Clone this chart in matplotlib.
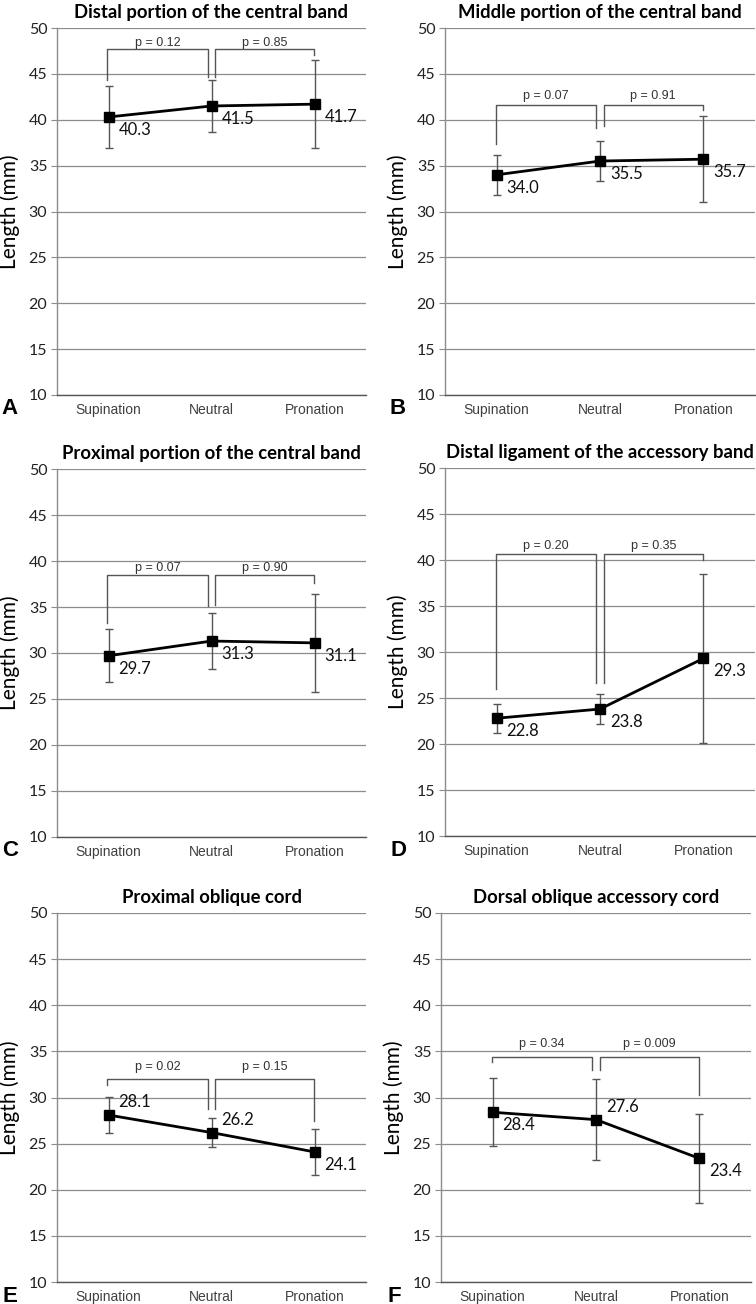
import numpy as np
import matplotlib
matplotlib.use("Agg")
import matplotlib.pyplot as plt

categories = ['Supination', 'Neutral', 'Pronation']
titles = ['Distal portion of the central band',
          'Middle portion of the central band',
          'Proximal portion of the central band',
          'Distal ligament of the accessory band',
          'Proximal oblique cord',
          'Dorsal oblique accessory cord']
letters = ['A', 'B', 'C', 'D', 'E', 'F']

# mean length (mm) and SD for each position
mean_a = [40.3, 41.5, 41.7]
sd_a = [3.4, 2.8, 4.8]
mean_b = [34.0, 35.5, 35.7]
sd_b = [2.2, 2.2, 4.7]
mean_c = [29.7, 31.3, 31.1]
sd_c = [2.9, 3.0, 5.3]
mean_d = [22.8, 23.8, 29.3]
sd_d = [1.6, 1.6, 9.2]
mean_e = [28.1, 26.2, 24.1]
sd_e = [2.0, 1.6, 2.5]
mean_f = [28.4, 27.6, 23.4]
sd_f = [3.7, 4.4, 4.8]

# p values (supination vs neutral, neutral vs pronation)
p_a = ['p = 0.12', 'p = 0.85']
p_b = ['p = 0.07', 'p = 0.91']
p_c = ['p = 0.07', 'p = 0.90']
p_d = ['p = 0.20', 'p = 0.35']
p_e = ['p = 0.02', 'p = 0.15']
p_f = ['p = 0.34', 'p = 0.009']

# bracket top and leg ends (sup, neutral-left, neutral-right, pron)
br_top = [47.7, 41.65, 38.45, 40.64, 32.0, 34.4]
br_legs = [[44.3, 44.7, 44.7, 47.1],
           [37.4, 39.1, 39.3, 41.1],
           [33.3, 35.1, 35.2, 37.65],
           [26.0, 26.6, 26.6, 39.95],
           [31.35, 28.8, 28.8, 27.4],
           [33.8, 33.0, 33.0, 30.3]]
p_gap = [0.7, 0.95, 0.75, 0.86, 1.3, 1.35]

# value label above (1) or below (-1) the marker
label_side = [[-1, -1, -1], [-1, -1, -1], [-1, -1, -1],
              [-1, -1, -1], [1, 1, -1], [-1, 1, -1]]

means = [mean_a, mean_b, mean_c, mean_d, mean_e, mean_f]
sds = [sd_a, sd_b, sd_c, sd_d, sd_e, sd_f]
pvals = [p_a, p_b, p_c, p_d, p_e, p_f]

W, H = 756, 1304
fig = plt.figure(figsize=(W / 100, H / 100), dpi=100)

# axes boxes in pixels: left, right, top, bottom
boxes = [(57, 366, 28, 395), (445, 755, 28, 395),
         (57, 366, 469, 837), (445, 755, 468, 836),
         (57, 366, 913, 1282), (441, 751, 913, 1282)]

grey = '#8c8c8c'
dark = '#404040'
x = np.arange(3)

for i in range(6):
    l, r, t, b = boxes[i]
    ax = fig.add_axes([l / W, (H - b) / H, (r - l) / W, (b - t) / H])
    ax.set_xlim(-0.5, 2.5)
    ax.set_ylim(10, 50)
    ax.set_yticks(np.arange(10, 51, 5))
    ax.yaxis.grid(True, color=grey, lw=0.9)
    ax.set_axisbelow(True)
    for s in ['top', 'right']:
        ax.spines[s].set_visible(False)
    ax.spines['left'].set_color(grey)
    ax.spines['bottom'].set_color('#555555')
    ax.spines['left'].set_linewidth(1.0)
    ax.spines['bottom'].set_linewidth(1.0)
    ax.tick_params(axis='y', length=4, color=grey, pad=3, labelsize=11.5, labelcolor='#222222')
    ax.tick_params(axis='x', length=0, pad=6, labelsize=10, labelcolor=dark)
    ax.set_xticks(x)
    ax.set_xticklabels(categories, family='Liberation Sans')
    for lab in ax.get_yticklabels():
        lab.set_family('Lato')

    ax.errorbar(x, means[i], yerr=sds[i], color='#555555', elinewidth=1.0,
                capsize=3, capthick=1.0, fmt='none', zorder=3)
    ax.plot(x, means[i], color='black', lw=2, marker='s', ms=7.5, zorder=4)

    for j in range(3):
        ax.annotate(f'{means[i][j]:.1f}', (x[j], means[i][j]),
                    xytext=(10, 13 * label_side[i][j]), textcoords='offset pixels',
                    ha='left', va='center', fontsize=12, family='Lato', color='#111111')

    # significance brackets
    legs = br_legs[i]
    top = br_top[i]
    xs = [-0.01, 1 - 0.035, 1 + 0.035, 1.995]
    ax.plot([xs[0], xs[0], xs[1], xs[1]], [legs[0], top, top, legs[1]],
            color='#555555', lw=1.0, zorder=2)
    ax.plot([xs[2], xs[2], xs[3], xs[3]], [legs[2], top, top, legs[3]],
            color='#555555', lw=1.0, zorder=2)
    ax.text((xs[0] + xs[1]) / 2, top + p_gap[i], pvals[i][0], ha='center', va='center',
            fontsize=9, family='Liberation Sans', color='#333333')
    ax.text((xs[2] + xs[3]) / 2, top + p_gap[i], pvals[i][1], ha='center', va='center',
            fontsize=9, family='Liberation Sans', color='#333333')

    ax.set_title(titles[i], fontsize=13.3, fontweight='bold', family='Lato', pad=7)
    ax.text(-47 / (r - l), 0.5, 'Length (mm)', transform=ax.transAxes, rotation=90,
            ha='center', va='center', fontsize=15, family='Lato')

    fig.text((l - 47) / W, 1 - (b + 14) / H, letters[i], ha='center', va='center',
             fontsize=16, fontweight='bold', family='Liberation Sans')

fig.savefig('out.png', dpi=100)
